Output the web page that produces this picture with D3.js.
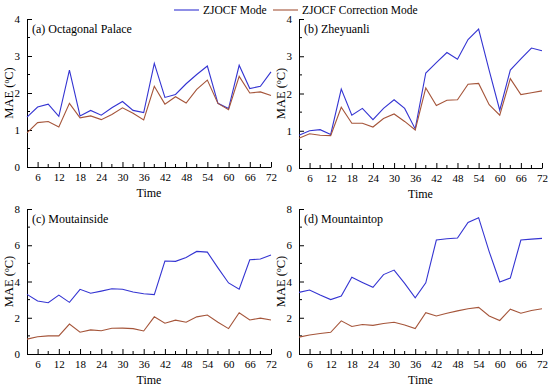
<!DOCTYPE html>
<html>
<head>
<meta charset="utf-8">
<script src="https://cdn.jsdelivr.net/npm/d3@7"></script>
<style>
  body { margin: 0; background: #fff; }
  svg text { font-family: "Liberation Serif", "Times New Roman", serif; fill: #000; }
</style>
</head>
<body>
<svg id="chart" width="550" height="389"></svg>
<script>
// lead times (h)
const times = [3, 6, 9, 12, 15, 18, 21, 24, 27, 30, 33, 36, 39, 42, 45, 48, 51, 54, 57, 60, 63, 66, 69, 72];
const xTicks = [6, 12, 18, 24, 30, 36, 42, 48, 54, 60, 66, 72];
const seriesNames = ["ZJOCF Mode", "ZJOCF Correction Mode"];
const seriesColors = ["#3434d2", "#a5553a"];

const panelTitles = ["(a) Octagonal Palace", "(b) Zheyuanli", "(c) Moutainside", "(d) Mountaintop"];
const panelYMax = [4, 4, 8, 8];
const panelYStep = [1, 1, 2, 2];

// MAE values, ZJOCF Mode
const modeA = [1.35, 1.62, 1.7, 1.37, 2.62, 1.38, 1.53, 1.4, 1.6, 1.77, 1.53, 1.47, 2.8, 1.88, 1.96, 2.25, 2.5, 2.73, 1.72, 1.58, 2.75, 2.12, 2.18, 2.57];
const modeB = [0.88, 1.0, 1.03, 0.9, 2.12, 1.42, 1.6, 1.3, 1.6, 1.83, 1.6, 1.05, 2.55, 2.83, 3.1, 2.92, 3.45, 3.73, 2.62, 1.55, 2.63, 2.93, 3.22, 3.15];
const modeC = [3.29, 2.92, 2.83, 3.25, 2.85, 3.57, 3.35, 3.47, 3.6, 3.57, 3.42, 3.32, 3.28, 5.13, 5.11, 5.33, 5.66, 5.62, 4.75, 3.92, 3.58, 5.2, 5.24, 5.46];
const modeD = [3.4, 3.53, 3.25, 3.0, 3.2, 4.23, 3.95, 3.68, 4.38, 4.63, 3.9, 3.1, 3.93, 6.29, 6.36, 6.4, 7.26, 7.52, 5.65, 3.97, 4.19, 6.29, 6.34, 6.38];

// MAE values, ZJOCF Correction Mode
const corrA = [0.92, 1.2, 1.23, 1.08, 1.72, 1.33, 1.38, 1.28, 1.42, 1.6, 1.45, 1.27, 2.18, 1.7, 1.9, 1.73, 2.1, 2.35, 1.72, 1.55, 2.45, 2.0, 2.03, 1.93];
const corrB = [0.8, 0.92, 0.88, 0.87, 1.63, 1.2, 1.2, 1.1, 1.33, 1.45, 1.25, 1.02, 2.15, 1.68, 1.82, 1.83, 2.25, 2.27, 1.7, 1.42, 2.4, 1.97, 2.02, 2.07];
const corrC = [0.82, 0.95, 1.0, 1.0, 1.65, 1.2, 1.33, 1.28, 1.42, 1.43, 1.4, 1.27, 2.05, 1.7, 1.87, 1.75, 2.05, 2.15, 1.75, 1.4, 2.28, 1.88, 1.98, 1.88];
const corrD = [0.93, 1.05, 1.13, 1.2, 1.83, 1.52, 1.63, 1.58, 1.68, 1.75, 1.6, 1.4, 2.28, 2.1, 2.25, 2.38, 2.5, 2.57, 2.1, 1.85, 2.47, 2.25, 2.4, 2.5];

const modeData = [modeA, modeB, modeC, modeD];
const corrData = [corrA, corrB, corrC, corrD];

const svg = d3.select("#chart");

// panel boxes (plot area in px)
const panels = [
  {left: 27, right: 271, top: 19, bottom: 167},
  {left: 299, right: 542, top: 19, bottom: 168},
  {left: 27, right: 271, top: 209, bottom: 354},
  {left: 299, right: 542, top: 209, bottom: 354}
];

panels.forEach(function(p, i) {
  const g = svg.append("g");
  const x = d3.scaleLinear().domain([3, 72]).range([p.left, p.right]);
  const y = d3.scaleLinear().domain([0, panelYMax[i]]).range([p.bottom, p.top]);

  // x axis: major ticks inward, minor in between
  const xMinor = d3.range(9, 72, 6);
  const xAxis = g.append("g")
      .attr("transform", "translate(0," + p.bottom + ")")
      .call(d3.axisBottom(x).tickValues(xTicks).tickSizeInner(-5).tickSizeOuter(0).tickPadding(6));
  xAxis.append("g").selectAll("line")
      .data(xMinor)
      .enter().append("line")
      .attr("x1", d => x(d)).attr("x2", d => x(d))
      .attr("y1", 0).attr("y2", -3)
      .attr("stroke", "#000");

  // y axis
  const yTicks = d3.range(0, panelYMax[i] + 0.001, panelYStep[i]);
  const yMinor = d3.range(panelYStep[i] / 2, panelYMax[i], panelYStep[i]);
  const yAxis = g.append("g")
      .attr("transform", "translate(" + p.left + ",0)")
      .call(d3.axisLeft(y).tickValues(yTicks).tickSizeInner(-5).tickSizeOuter(0).tickPadding(7).tickFormat(d3.format("d")));
  yAxis.append("g").selectAll("line")
      .data(yMinor)
      .enter().append("line")
      .attr("y1", d => y(d)).attr("y2", d => y(d))
      .attr("x1", 0).attr("x2", 3)
      .attr("stroke", "#000");

  g.selectAll(".domain").attr("stroke", "#000");
  g.selectAll(".tick line").attr("stroke", "#000");
  g.selectAll(".tick text")
      .attr("font-family", null)
      .style("font-size", "11px");

  // lines
  const line = d3.line()
      .x((d, j) => x(times[j]))
      .y(d => y(d));
  [modeData[i], corrData[i]].forEach(function(vals, k) {
    g.append("path")
        .datum(vals)
        .attr("fill", "none")
        .attr("stroke", seriesColors[k])
        .attr("stroke-width", 1.1)
        .attr("d", line);
  });

  // panel title
  g.append("text")
      .attr("x", p.left + 5)
      .attr("y", p.top + 14)
      .style("font-size", "12px")
      .text(panelTitles[i]);

  // axis titles
  g.append("text")
      .attr("x", (p.left + p.right) / 2)
      .attr("y", p.bottom + 30)
      .attr("text-anchor", "middle")
      .style("font-size", "12px")
      .text("Time");

  const yl = g.append("text")
      .attr("transform", "translate(" + (p.left - 14) + "," + ((p.top + p.bottom) / 2) + ") rotate(-90)")
      .attr("text-anchor", "middle")
      .style("font-size", "12.5px");
  yl.append("tspan").text("MAE (");
  yl.append("tspan").attr("dy", -4).style("font-size", "7.5px").text("o");
  yl.append("tspan").attr("dy", 4).text("C)");
});

// legend
const legendX = [174, 273];
const legend = svg.append("g");
seriesNames.forEach(function(name, k) {
  legend.append("line")
      .attr("x1", legendX[k]).attr("x2", legendX[k] + 25)
      .attr("y1", 10).attr("y2", 10)
      .attr("stroke", seriesColors[k])
      .attr("stroke-width", 1.1);
  legend.append("text")
      .attr("x", legendX[k] + 29)
      .attr("y", 14)
      .style("font-size", "11.5px")
      .text(name);
});
</script>
</body>
</html>
